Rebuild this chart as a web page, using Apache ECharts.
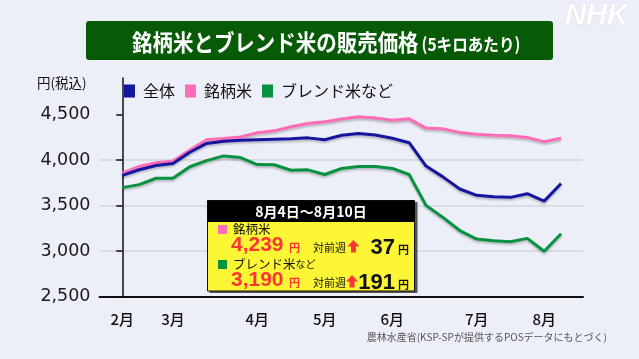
<!DOCTYPE html>
<html>
<head>
<meta charset="utf-8">
<script src="https://cdn.jsdelivr.net/npm/echarts@6/dist/echarts.min.js"></script>
<style>
html,body{margin:0;padding:0;background:#eceef8;}
#c{width:639px;height:359px;}
</style>
</head>
<body>
<div id="c"></div>
<script>
// weekly points (week index 0 = early Feb ... 26 = Aug 4-10)
const monthLabels = ['2月','3月','4月','5月','6月','7月','8月'];
const monthIdx = [0, 3, 8, 12, 16, 21, 25];
const yTicks = [2500, 3000, 3500, 4000, 4500];
const seriesNames = ['全体', '銘柄米', 'ブレンド米など'];
const overall = [3832, 3893, 3940, 3962, 4085, 4182, 4205, 4216, 4222, 4228, 4233, 4243, 4222, 4272, 4290, 4274, 4238, 4190, 3934, 3815, 3682, 3612, 3596, 3590, 3630, 3549, 3742];
const brand   = [3855, 3930, 3970, 3990, 4110, 4222, 4236, 4252, 4300, 4320, 4365, 4400, 4420, 4450, 4475, 4462, 4436, 4452, 4350, 4342, 4303, 4283, 4273, 4265, 4248, 4202, 4239];
const blend   = [3697, 3730, 3800, 3800, 3926, 3993, 4045, 4027, 3950, 3948, 3888, 3892, 3841, 3908, 3930, 3930, 3908, 3841, 3502, 3370, 3226, 3132, 3114, 3104, 3140, 2999, 3190];
const periodLabel = '8月4日～8月10日';

const C_BLUE = '#1515a0', C_PINK = '#ff6cb8', C_GREEN = '#06923f';
const RED = '#ff3535';
const JP = '"Noto Sans CJK JP", "Noto Sans", sans-serif';

const toPairs = arr => arr.map((v, i) => [i, v]);
const fmt = v => Number(v).toLocaleString('en-US');
const last = a => a[a.length - 1];
const diff = a => a[a.length - 1] - a[a.length - 2];

const chart = echarts.init(document.getElementById('c'), null, {renderer: 'canvas'});

const lineShadow = {shadowColor: 'rgba(0,0,0,0.22)', shadowBlur: 2, shadowOffsetY: 2};

function row(dy, color, labelRich, value, delta) {
  const ax = dy ? -1.5 : 0;
  return [
    {type: 'rect', shape: {x: 218, y: 225 + dy, width: 9, height: 9}, style: {fill: color}, z: 103},
    {type: 'text', x: 233, y: 229.5 + dy, style: {text: labelRich, rich: {a: {fontSize: 12.5, fontFamily: JP, fill: '#111'}, b: {fontSize: 10, fontFamily: JP, fill: '#111'}}, verticalAlign: 'middle', align: 'left', fill: '#111'}, z: 103},
    {type: 'text', x: 231, y: 245 + dy, style: {text: fmt(value), font: 'bold 21px "Liberation Sans", Arial, sans-serif', fill: RED, verticalAlign: 'middle', align: 'left'}, z: 103},
    {type: 'text', x: 289, y: 247.5 + dy, style: {text: '円', font: 'bold 11px ' + JP, fill: RED, verticalAlign: 'middle', align: 'left'}, z: 103},
    {type: 'text', x: 313, y: 248 + dy, style: {text: '対前週', font: '11px ' + JP, fill: '#111', verticalAlign: 'middle', align: 'left'}, z: 103},
    {type: 'polygon', shape: {points: [[353.5 + ax, 240 + dy], [359.5 + ax, 246.5 + dy], [356 + ax, 246.5 + dy], [356 + ax, 252.5 + dy], [351 + ax, 252.5 + dy], [351 + ax, 246.5 + dy], [347.5 + ax, 246.5 + dy]]}, style: {fill: RED}, z: 103},
    {type: 'text', x: 395, y: 247.5 + dy, style: {text: String(delta), font: 'bold 22px "Liberation Sans", Arial, sans-serif', fill: '#111', verticalAlign: 'middle', align: 'right'}, z: 103},
    {type: 'text', x: 398, y: 249.5 + dy, style: {text: '円', font: 'bold 11px ' + JP, fill: '#111', verticalAlign: 'middle', align: 'left'}, z: 103}
  ];
}

const option = {
  backgroundColor: '#eceef8',
  animation: false,
  grid: {left: 99.5, right: 56, top: 78, bottom: 62.3, containLabel: false},
  legend: {
    left: 119, top: 78, itemWidth: 11, itemHeight: 13, itemGap: 10, icon: 'rect',
    selectedMode: false,
    data: seriesNames,
    textStyle: {fontSize: 16, fontFamily: JP, color: '#111', padding: [1, 0, 0, 3]}
  },
  xAxis: {
    type: 'value', min: -1.35, max: 27.3,
    axisLine: {show: true, onZero: false, lineStyle: {color: '#111', width: 2}},
    axisTick: {show: false},
    splitLine: {show: false},
    axisLabel: {
      customValues: monthIdx,
      formatter: v => monthLabels[monthIdx.indexOf(Math.round(v))] || '',
      margin: 15, fontSize: 15, fontWeight: 500, fontFamily: JP, color: '#111'
    }
  },
  yAxis: {
    type: 'value', min: 2500, max: 4900, interval: 500,
    axisLine: {show: true, lineStyle: {color: '#111', width: 1.5}},
    axisTick: {show: true, customValues: yTicks, length: 6, lineStyle: {color: '#111', width: 1.5}},
    splitLine: {show: true, showMinLine: false, showMaxLine: false, lineStyle: {color: '#d3d5df', width: 1.5}},
    axisLabel: {
      customValues: yTicks,
      formatter: v => fmt(v),
      margin: 9, fontSize: 17.5, fontFamily: '"DejaVu Sans", sans-serif', color: '#1a1a1a'
    }
  },
  series: [
    {name: seriesNames[0], type: 'line', data: toPairs(overall), showSymbol: false, symbol: 'none', z: 4,
     lineStyle: Object.assign({color: C_BLUE, width: 3}, lineShadow), itemStyle: {color: C_BLUE}},
    {name: seriesNames[1], type: 'line', data: toPairs(brand), showSymbol: false, symbol: 'none', z: 3,
     lineStyle: Object.assign({color: C_PINK, width: 3}, lineShadow), itemStyle: {color: C_PINK}},
    {name: seriesNames[2], type: 'line', data: toPairs(blend), showSymbol: false, symbol: 'none', z: 3,
     lineStyle: Object.assign({color: C_GREEN, width: 3}, lineShadow), itemStyle: {color: C_GREEN}}
  ],
  graphic: [
    // title
    {type: 'rect', shape: {x: 86, y: 21, width: 467, height: 39, r: 3}, style: {fill: '#075b07'}, z: 100},
    {type: 'text', x: 132, y: 42.5, scaleX: 0.89, z: 101,
     style: {text: '{m|銘柄米とブレンド米の販売価格} {s|(5キロあたり)}', verticalAlign: 'middle', align: 'left',
       rich: {m: {fontSize: 23, fontWeight: 'bold', fontFamily: JP, fill: '#fff'}, s: {fontSize: 17.5, fontWeight: 'bold', fontFamily: JP, fill: '#fff', padding: [3, 0, 0, 0]}}}},
    // NHK mark
    {type: 'text', x: 628, y: 15.5, z: 101,
     style: {text: 'NHK', font: 'italic bold 29px "Liberation Sans", Arial, sans-serif', fill: '#ffffff', stroke: 'rgba(0,0,0,0.08)', lineWidth: 1, align: 'right', verticalAlign: 'middle'}},
    // unit
    {type: 'text', x: 37, y: 83, z: 101, style: {text: '円(税込)', font: '13.5px ' + JP, fill: '#111', align: 'left', verticalAlign: 'middle'}},
    // source
    {type: 'text', x: 607, y: 337, z: 101, style: {text: '農林水産省(KSP-SPが提供するPOSデータにもとづく)', font: '10px ' + JP, fill: '#555', align: 'right', verticalAlign: 'middle'}},
    // annotation box
    {type: 'rect', shape: {x: 209.5, y: 202, width: 208, height: 91}, style: {fill: '#555'}, z: 100},
    {type: 'rect', shape: {x: 207.5, y: 200.5, width: 207, height: 90.5}, style: {fill: '#fdf634', stroke: '#111', lineWidth: 1}, z: 101},
    {type: 'rect', shape: {x: 207.5, y: 200.5, width: 207, height: 21.5}, style: {fill: '#000'}, z: 102},
    {type: 'text', x: 311, y: 211.5, z: 103, style: {text: periodLabel, font: 'bold 14px ' + JP, fill: '#fff', align: 'center', verticalAlign: 'middle'}},
    ...row(0, C_PINK, '{a|銘柄米}', last(brand), diff(brand)),
    ...row(35, C_GREEN, '{a|ブレンド米}{b|など}', last(blend), diff(blend))
  ]
};
chart.setOption(option);
</script>
</body>
</html>
